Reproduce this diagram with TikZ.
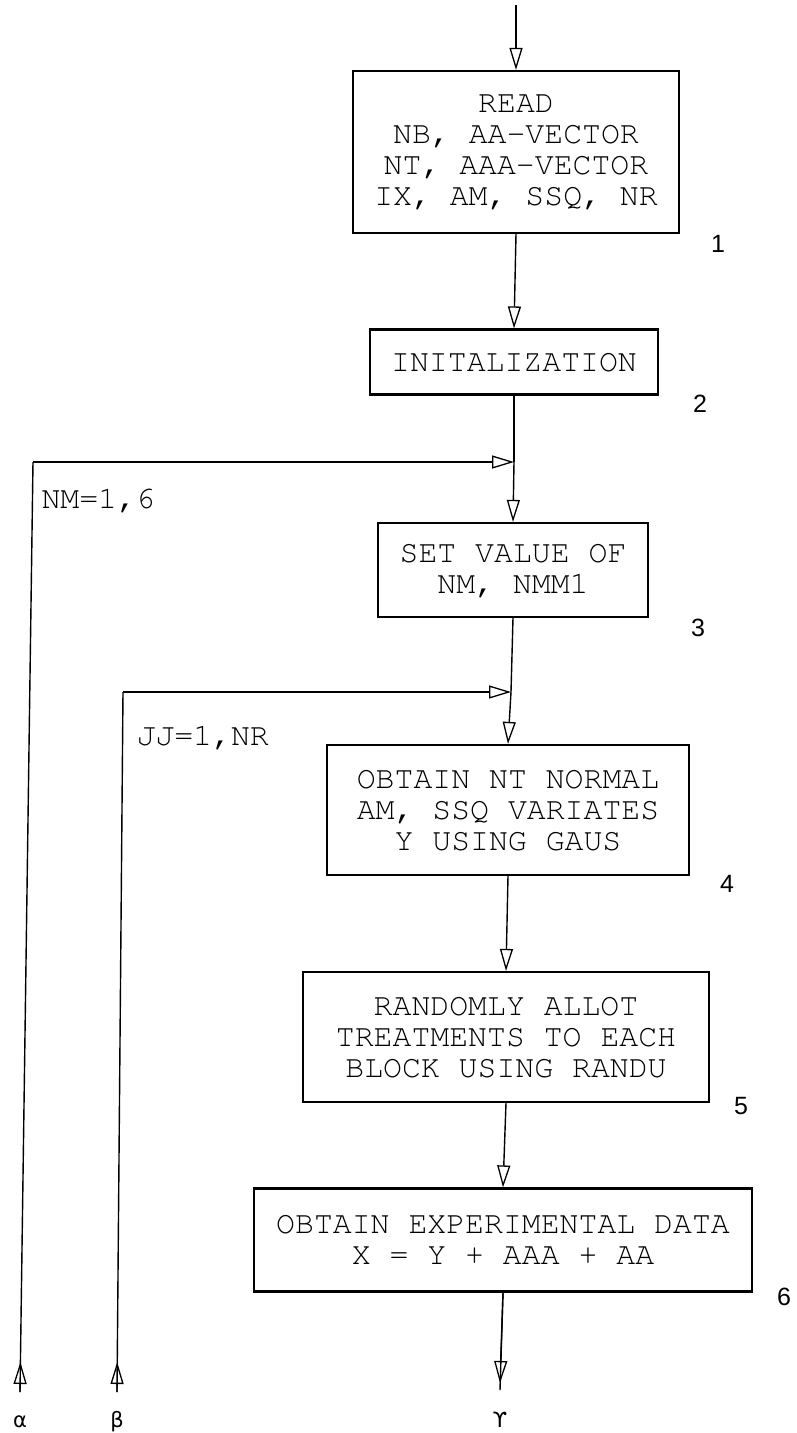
\documentclass[tikz,border=0pt]{standalone}
\usepackage[T1]{fontenc}
\usepackage{fontspec}
\setmainfont{Liberation Sans}
\setmonofont{Liberation Mono}
\newfontfamily\greekfont{DejaVu Sans}
\newcommand\typewr{\fontencoding{T1}\fontfamily{pcr}\fontseries{m}\fontshape{n}\fontsize{31.5}{31}\selectfont}
\usetikzlibrary{arrows.meta}
\begin{document}
\begin{tikzpicture}[x=1pt,y=-1pt,
  box/.style={draw, line width=2.2pt, rectangle, align=center, inner sep=0pt,
    font=\typewr},
  conn/.style={line width=1.4pt},
  tip/.style={-{Triangle[open,length=22pt,width=13pt,line width=1.3pt]}},
  loopl/.style={line width=2.8pt},
  num/.style={font=\fontsize{25}{25}\selectfont},
  grk/.style={font=\greekfont\fontsize{21}{21}\selectfont},
  lbl/.style={anchor=west, font=\typewr}]
\useasboundingbox (0,0) rectangle (797,1433);

% boxes
\node[box, minimum width=326pt, minimum height=162pt] (b1) at (516,152)
  {READ\\NB, AA-VECTOR\\NT, AAA-VECTOR\\IX, AM, SSQ, NR};
\node[box, minimum width=288pt, minimum height=65pt] (b2) at (514,362)
  {INITALIZATION};
\node[box, minimum width=270pt, minimum height=94pt] (b3) at (513,570)
  {SET VALUE OF\\NM, NMM1};
\node[box, minimum width=362pt, minimum height=130pt] (b4) at (508,810)
  {OBTAIN NT NORMAL\\AM, SSQ VARIATES\\Y USING GAUS};
\node[box, minimum width=406pt, minimum height=130pt] (b5) at (506,1037)
  {RANDOMLY ALLOT\\TREATMENTS TO EACH\\BLOCK USING RANDU};
\node[box, minimum width=498pt, minimum height=103pt] (b6) at (503,1240)
  {OBTAIN EXPERIMENTAL DATA\\X = Y + AAA + AA};

% step numbers
\node[num] (n1) at (718,244) {1};
\node[num] (n2) at (700,404) {2};
\node[num] (n3) at (698,628) {3};
\node[num] (n4) at (727,884) {4};
\node[num] (n5) at (741,1106) {5};
\node[num] (n6) at (784,1297) {6};

% coordinates
\coordinate (top) at (516,5);
\coordinate (j1) at (514,462);
\coordinate (j2) at (511,692);
\coordinate (ac) at (33,462);
\coordinate (ab) at (20,1392);
\coordinate (at) at (20.4,1362);
\coordinate (bc) at (123,692);
\coordinate (bb) at (117,1392);
\coordinate (bt) at (117.2,1362);
\coordinate (gt) at (500,1383);
\coordinate (gb) at (500,1390);

% main flow
\draw[conn,tip] (top) -- (b1.north);
\draw[conn,tip] (b1.south) -- (b2.north);
\draw[conn] (b2.south) -- (j1);
\draw[conn,tip] (j1) -- (b3.north);
\draw[conn] (b3.south) -- (j2);
\draw[conn,tip] (j2) -- (b4.north);
\draw[conn,tip] (b4.south) -- (b5.north);
\draw[conn,tip] (b5.south) -- (b6.north);
\draw[conn] (b6.south) -- (gb);
\draw[conn,tip] (b6.south) -- (gt);

% loops
\draw[conn] (ac) -- (ab);
\draw[conn,tip] (ab) -- (at);
\draw[loopl,tip] (ac) -- (j1);
\draw[conn] (bc) -- (bb);
\draw[conn,tip] (bb) -- (bt);
\draw[loopl,tip] (bc) -- (j2);

\node[lbl] (l1) at (38,500) {NM=1,6};
\node[lbl] (l2) at (133,737) {JJ=1,NR};

% end labels
\node[grk] (ga) at (20,1422) {α};
\node[grk] (gbeta) at (117,1422) {β};
\node[grk] (gg) at (500,1420) {ϒ};
\end{tikzpicture}
\end{document}
